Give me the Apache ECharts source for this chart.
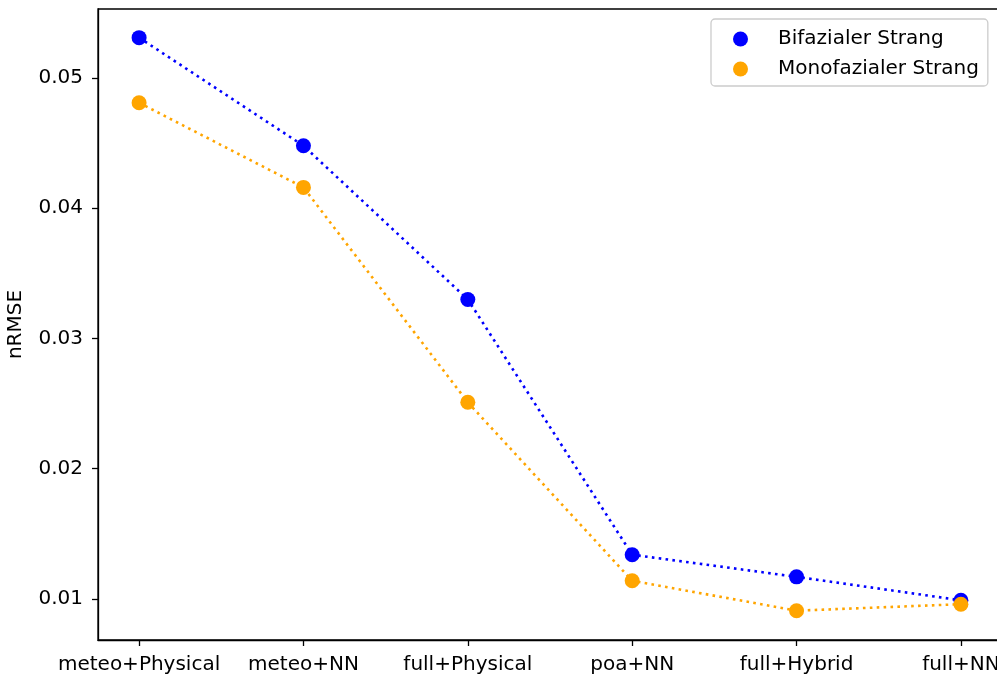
<!DOCTYPE html>
<html>
<head>
<meta charset="utf-8">
<script src="https://cdn.jsdelivr.net/npm/echarts@6/dist/echarts.min.js"></script>
<style>
  html, body { margin: 0; padding: 0; background: #fff; }
  #chart { width: 997px; height: 675px; }
</style>
</head>
<body>
<div id="chart"></div>
<script>
// Model configurations along the x axis
const categories = ['meteo+Physical', 'meteo+NN', 'full+Physical', 'poa+NN', 'full+Hybrid', 'full+NN'];
// nRMSE per configuration
const bifacial = [0.0531, 0.0448, 0.0330, 0.0134, 0.0117, 0.0099];
const monofacial = [0.0481, 0.0416, 0.0251, 0.0114, 0.0091, 0.0096];
const yTicks = [0.01, 0.02, 0.03, 0.04, 0.05];
const seriesNames = ['Bifazialer Strang', 'Monofazialer Strang'];

const FONT = 'DejaVu Sans';
const FS = 20;
const xTicks = categories.map((_, i) => i);

const chart = echarts.init(document.getElementById('chart'));

function makeSeries(name, values, color) {
  return {
    name: name,
    type: 'line',
    data: values.map((v, i) => [i, v]),
    symbol: 'circle',
    symbolSize: 15,
    itemStyle: { color: color },
    lineStyle: { color: color, width: 2.6, type: [2.6, 4.3] },
    emphasis: { disabled: true },
    animation: false
  };
}

chart.setOption({
  animation: false,
  textStyle: { fontFamily: FONT },
  grid: {
    left: 98, top: 9, right: -5, bottom: 35,
    outerBoundsMode: 'none',
    containLabel: false,
    show: true, borderColor: '#000', borderWidth: 1.3
  },
  legend: {
    left: 711, top: 19,
    orient: 'vertical',
    data: seriesNames.map(n => ({ name: n, icon: 'circle' })),
    itemWidth: 15, itemHeight: 15, itemGap: 10,
    padding: [10, 9, 7, 22],
    borderColor: '#cccccc', borderWidth: 1.3, borderRadius: 4,
    backgroundColor: '#fff',
    textStyle: { fontFamily: FONT, fontSize: FS, color: '#000', padding: [0, 0, 0, 25] }
  },
  xAxis: {
    type: 'value',
    min: -0.25, max: 5.25,
    splitLine: { show: false },
    axisLine: { onZero: false, lineStyle: { color: '#000', width: 1.3 } },
    axisTick: { show: true, length: 6, inside: false, customValues: xTicks, lineStyle: { color: '#000', width: 1.3 } },
    axisLabel: {
      customValues: xTicks,
      formatter: v => categories[Math.round(v)],
      fontFamily: FONT, fontSize: FS, color: '#000', margin: 15
    }
  },
  yAxis: {
    type: 'value',
    min: 0.00685, max: 0.0553,
    name: 'nRMSE',
    nameLocation: 'middle',
    nameRotate: 90,
    nameGap: 72,
    nameTextStyle: { fontFamily: FONT, fontSize: FS, color: '#000' },
    splitLine: { show: false },
    axisLine: { show: true, onZero: false, lineStyle: { color: '#000', width: 1.3 } },
    axisTick: { show: true, length: 6, inside: false, customValues: yTicks, lineStyle: { color: '#000', width: 1.3 } },
    axisLabel: {
      customValues: yTicks,
      formatter: v => v.toFixed(2),
      fontFamily: FONT, fontSize: FS, color: '#000', margin: 15
    }
  },
  series: [
    makeSeries(seriesNames[0], bifacial, '#0000ff'),
    makeSeries(seriesNames[1], monofacial, '#ffa500')
  ]
});
</script>
</body>
</html>
